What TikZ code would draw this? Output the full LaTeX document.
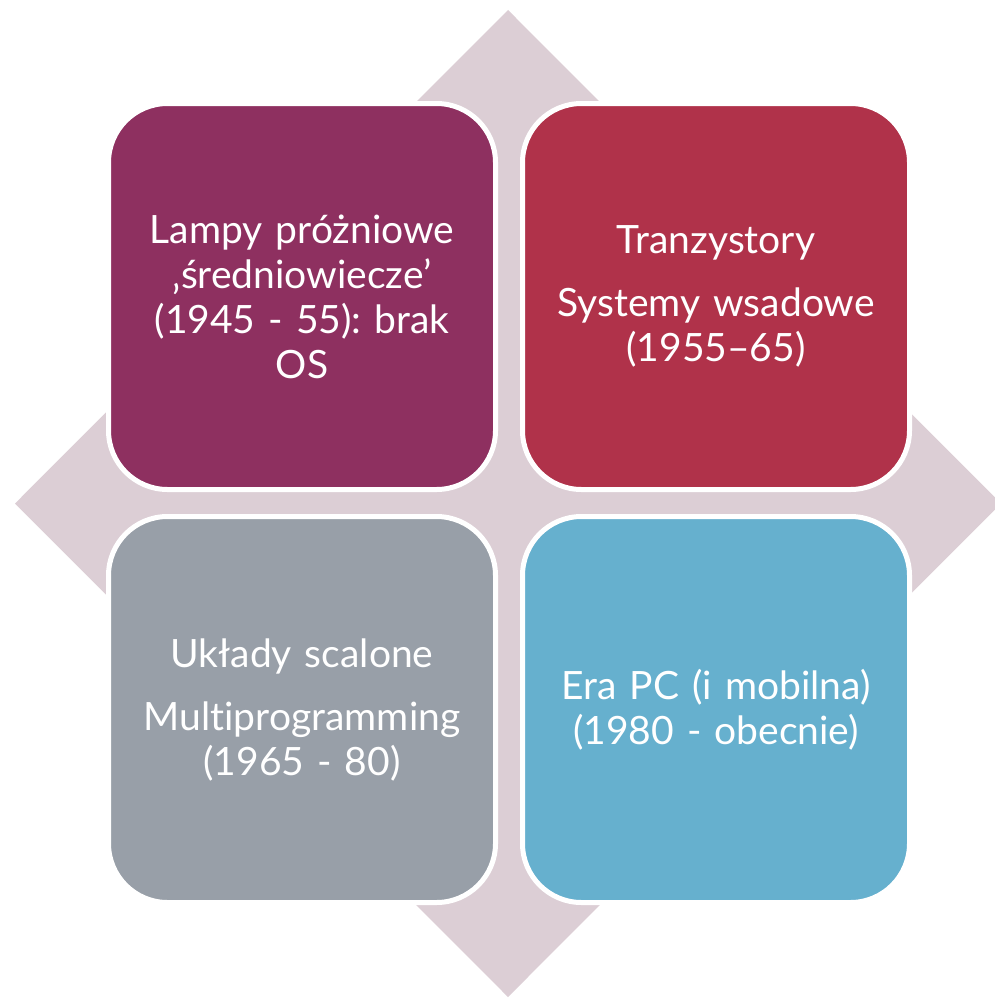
\documentclass[tikz,border=0pt]{standalone}
\usepackage{fontspec}
\setmainfont{Lato}[Ligatures=NoCommon]
\frenchspacing
\definecolor{diamondbg}{HTML}{DCCED5}
\definecolor{eraone}{HTML}{8E3060}
\definecolor{eratwo}{HTML}{B0324A}
\definecolor{erathree}{HTML}{989FA8}
\definecolor{erafour}{HTML}{66B0CE}
\begin{document}
\begin{tikzpicture}[x=1pt,y=-1pt,
  erabox/.style={rectangle, rounded corners=59pt, draw=white, line width=5pt,
    minimum width=387pt, minimum height=386pt, inner sep=0pt,
    text width=350pt, align=center, text=white,
    font=\fontsize{39}{45}\selectfont\frenchspacing}]
  \useasboundingbox (0,0) rectangle (995,998);
  % background diamond
  \fill[diamondbg] (508,10) -- (1001,503.5) -- (508,997) -- (15,503.5) -- cycle;
  % the four generations
  \node[erabox, fill=eraone] (tl) at (302,296.5)
    {Lampy próżniowe\\ ‚średniowiecze’\\ (1945 - 55): brak\\ OS};
  \node[erabox, fill=eratwo] (tr) at (716,296.5)
    {Tranzystory\\[18pt] Systemy wsadowe\\ (1955–65)};
  \node[erabox, fill=erathree] (bl) at (302,709.5)
    {Układy scalone\\[18pt] Multiprogramming\\ (1965 - 80)};
  \node[erabox, fill=erafour] (br) at (716,709.5)
    {Era PC (i mobilna)\\ (1980 - obecnie)};
\end{tikzpicture}
\end{document}
